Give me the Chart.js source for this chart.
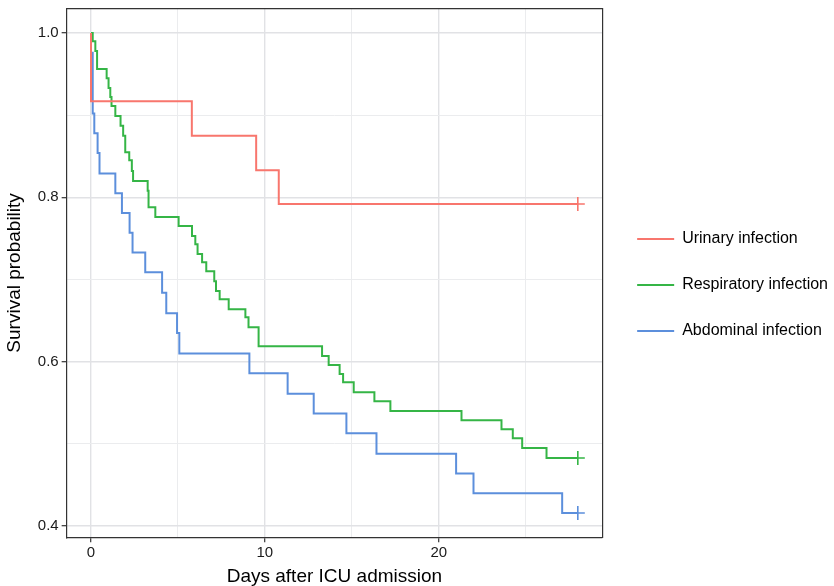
<!DOCTYPE html>
<html>
<head>
<meta charset="utf-8">
<script src="https://cdn.jsdelivr.net/npm/chart.js@4.4.1/dist/chart.umd.min.js"></script>
<style>
  body { margin: 0; background: #fff; }
  #wrap { width: 834px; height: 586px; position: relative; }
</style>
</head>
<body>
<div id="wrap"><canvas id="kmChart"></canvas></div>
<script>
// Kaplan-Meier estimates (days, survival probability)
const urinaryTime = [0, 0, 5.8, 9.5, 10.8, 28];
const urinarySurv = [1.0, 0.917, 0.875, 0.833, 0.792, 0.792];

const respiratoryTime = [0, 0.1, 0.25, 0.35, 0.9, 1.01, 1.11, 1.18, 1.4, 1.7, 1.85, 1.97, 2.2, 2.35, 2.42, 3.26, 3.31, 3.7, 5.04, 5.81, 6.0, 6.13, 6.39, 6.63, 7.09, 7.19, 7.4, 7.92, 8.88, 9.06, 9.64, 13.29, 13.67, 14.3, 14.5, 15.11, 16.3, 17.22, 21.31, 23.61, 24.26, 24.8, 26.2, 28];
const respiratorySurv = [1.0, 0.990, 0.978, 0.956, 0.945, 0.933, 0.922, 0.911, 0.899, 0.887, 0.875, 0.855, 0.845, 0.832, 0.820, 0.808, 0.788, 0.776, 0.765, 0.753, 0.743, 0.731, 0.721, 0.710, 0.698, 0.686, 0.676, 0.664, 0.654, 0.642, 0.619, 0.607, 0.596, 0.585, 0.575, 0.563, 0.552, 0.540, 0.529, 0.518, 0.507, 0.495, 0.483, 0.483];

const abdominalTime = [0, 0, 0.1, 0.19, 0.38, 0.49, 1.4, 1.78, 2.22, 2.39, 3.12, 4.09, 4.33, 4.95, 5.08, 9.11, 11.31, 12.81, 14.69, 16.42, 21.0, 22.0, 27.1, 28];
const abdominalSurv = [1.0, 0.976, 0.902, 0.878, 0.854, 0.829, 0.805, 0.781, 0.757, 0.733, 0.709, 0.684, 0.659, 0.635, 0.610, 0.586, 0.561, 0.537, 0.513, 0.488, 0.464, 0.440, 0.416, 0.416];

const groupNames = ['Urinary infection', 'Respiratory infection', 'Abdominal infection'];
const groupColors = ['#F8766D', '#35B546', '#5C8FDC'];

const xTicks = [0, 5, 10, 15, 20, 25];
const yTicks = [0.4, 0.5, 0.6, 0.7, 0.8, 0.9, 1.0];

const FONT = "'Liberation Sans', Arial, Helvetica, sans-serif";

function toPoints(t, s) {
    return t.map((x, i) => ({x: x, y: s[i]}));
}

const curves = [
    toPoints(urinaryTime, urinarySurv),
    toPoints(respiratoryTime, respiratorySurv),
    toPoints(abdominalTime, abdominalSurv)
];

const datasets = curves.map((pts, i) => ({
    type: 'line',
    label: groupNames[i],
    data: pts,
    stepped: 'before',
    borderColor: groupColors[i],
    backgroundColor: groupColors[i],
    borderWidth: 2,
    pointRadius: 0,
    fill: false
}));

// censoring marks at the end of each curve
curves.forEach((pts, i) => {
    datasets.push({
        type: 'scatter',
        label: groupNames[i] + ' censored',
        data: [pts[pts.length - 1]],
        pointStyle: 'cross',
        pointRadius: 7,
        borderColor: groupColors[i],
        borderWidth: 1.6,
        showLine: false
    });
});

const majorOnly = (c) => c.index % 2 === 0;

const ctx = document.getElementById('kmChart').getContext('2d');
const kmChart = new Chart(ctx, {
    data: { datasets: datasets },
    options: {
        responsive: true,
        maintainAspectRatio: false,
        animation: false,
        layout: { padding: { left: 3, right: -4, top: 8, bottom: -2 } },
        scales: {
            x: {
                type: 'linear',
                min: -1.4,
                max: 29.4,
                afterBuildTicks: axis => { axis.ticks = xTicks.map(v => ({value: v})); },
                ticks: {
                    color: '#1a1a1a',
                    font: { family: FONT, size: 15 },
                    padding: 2,
                    maxRotation: 0,
                    callback: (v, i) => i % 2 === 0 ? v : ''
                },
                grid: {
                    color: c => majorOnly(c) ? '#e1e2e5' : '#ebecee',
                    lineWidth: c => majorOnly(c) ? 1.4 : 1,
                    tickColor: c => majorOnly(c) ? '#333' : 'rgba(0,0,0,0)',
                    tickLength: 5,
                    tickWidth: 1.2
                },
                border: { display: true, color: '#333', width: 1.2 },
                title: {
                    display: true,
                    text: 'Days after ICU admission',
                    color: '#000',
                    font: { family: FONT, size: 19 },
                    padding: { top: 1, bottom: 0 }
                }
            },
            y: {
                type: 'linear',
                min: 0.3866,
                max: 1.0296,
                afterBuildTicks: axis => { axis.ticks = yTicks.map(v => ({value: v})); },
                afterFit: scale => { scale.paddingTop = 0; scale.paddingBottom = 0; },
                ticks: {
                    color: '#1a1a1a',
                    font: { family: FONT, size: 15 },
                    padding: 3,
                    callback: (v, i) => i % 2 === 0 ? v.toFixed(1) : ''
                },
                grid: {
                    color: c => majorOnly(c) ? '#e1e2e5' : '#ebecee',
                    lineWidth: c => majorOnly(c) ? 1.4 : 1,
                    tickColor: c => majorOnly(c) ? '#333' : 'rgba(0,0,0,0)',
                    tickLength: 5,
                    tickWidth: 1.2
                },
                border: { display: true, color: '#333', width: 1.2 },
                title: {
                    display: true,
                    text: 'Survival probability',
                    color: '#000',
                    font: { family: FONT, size: 19 },
                    padding: { top: 0, bottom: 9 }
                }
            },
            xTop: {
                type: 'linear',
                position: 'top',
                min: -1.4,
                max: 29.4,
                afterFit: scale => { scale.height = 0; },
                ticks: { display: false },
                grid: { display: false, drawTicks: false },
                border: { display: true, color: '#333', width: 1.2 }
            },
            yRight: {
                type: 'linear',
                position: 'right',
                min: 0.3866,
                max: 1.0296,
                afterFit: scale => { scale.width = 5; scale.paddingTop = 0; scale.paddingBottom = 0; },
                ticks: { display: false },
                grid: { display: false, drawTicks: false },
                border: { display: true, color: '#333', width: 1.2 }
            }
        },
        plugins: {
            tooltip: { enabled: false },
            legend: {
                position: 'right',
                align: 'start',
                maxWidth: 260,
                title: {
                    display: true,
                    text: '',
                    font: { family: FONT, size: 10 },
                    padding: { top: 181, bottom: 0 }
                },
                labels: {
                    filter: item => item.datasetIndex < 3,
                    usePointStyle: true,
                    pointStyle: 'line',
                    pointStyleWidth: 37,
                    color: '#000',
                    font: { family: FONT, size: 16 },
                    padding: 30
                }
            }
        }
    }
});
</script>
</body>
</html>
